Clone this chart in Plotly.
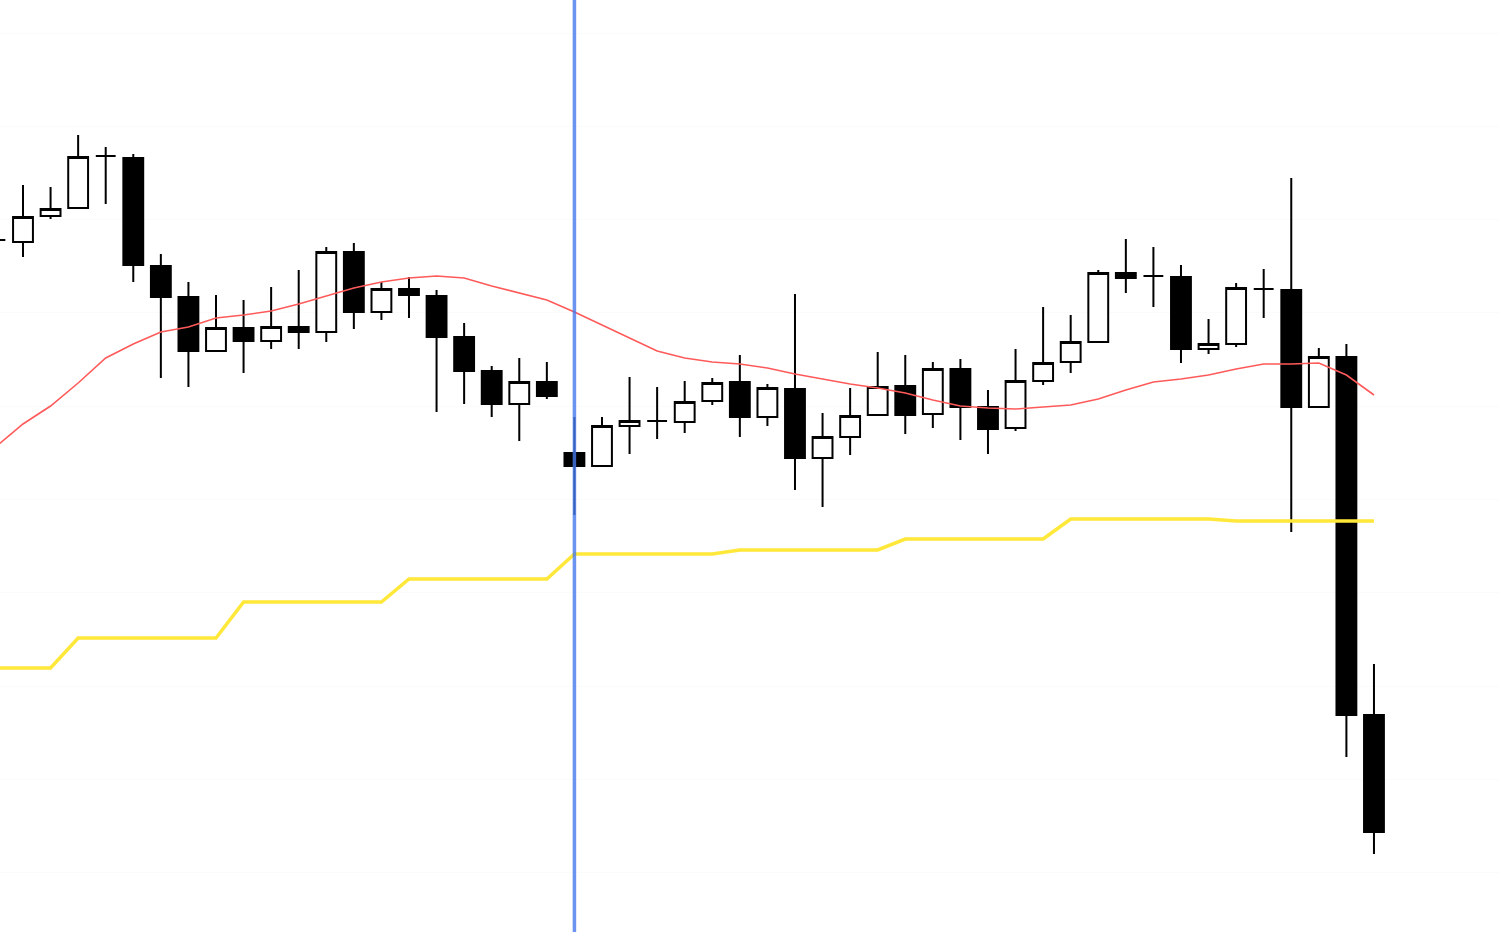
import plotly.graph_objects as go

# bar index (time slot) for each candle
bars = list(range(51))

open_ = [152.60, 152.58, 152.84, 152.92, 153.44, 153.42, 152.34, 152.03, 151.49, 151.72,
         151.59, 151.73, 151.68, 152.48, 151.88, 152.11, 152.04, 151.63, 151.29, 150.96,
         151.18, 150.47, 150.34, 150.74, 150.79, 150.78, 150.99, 151.18, 150.83, 151.11,
         150.42, 150.63, 150.85, 151.14, 150.86, 151.31, 150.93, 150.72, 151.19, 151.38,
         151.58, 152.27, 152.24, 152.23, 151.51, 151.56, 152.11, 152.10, 150.93, 151.43,
         147.85]
high_ = [152.68, 153.15, 153.13, 153.65, 153.53, 153.46, 152.46, 152.18, 152.05, 152.00,
         152.13, 152.30, 152.53, 152.57, 152.18, 152.23, 152.10, 151.77, 151.34, 151.42,
         151.38, 150.83, 150.83, 151.23, 151.13, 151.19, 151.22, 151.45, 151.16, 152.06,
         150.87, 151.12, 151.48, 151.45, 151.38, 151.41, 151.10, 151.51, 151.93, 151.85,
         152.30, 152.61, 152.53, 152.35, 151.81, 152.17, 152.31, 153.22, 151.52, 151.56,
         148.36]
low_ = [152.52, 152.43, 152.81, 152.91, 152.96, 152.18, 151.22, 151.13, 151.49, 151.27,
        151.51, 151.51, 151.58, 151.71, 151.80, 151.82, 150.88, 150.96, 150.83, 150.59,
        151.01, 149.85, 150.34, 150.46, 150.61, 150.67, 150.95, 150.63, 150.74, 150.10,
        149.93, 150.45, 150.85, 150.66, 150.72, 150.60, 150.46, 150.69, 151.15, 151.27,
        151.57, 152.07, 151.93, 151.37, 151.46, 151.53, 151.82, 149.68, 150.92, 147.43,
        146.46]
close_ = [152.60, 152.83, 152.91, 153.43, 153.44, 152.35, 152.03, 151.49, 151.72, 151.59,
          151.73, 151.68, 152.48, 151.88, 152.11, 152.05, 151.63, 151.29, 150.96, 151.18,
          151.04, 150.34, 150.74, 150.79, 150.79, 150.98, 151.17, 150.83, 151.12, 150.42,
          150.63, 150.84, 151.13, 150.85, 151.31, 150.93, 150.71, 151.19, 151.37, 151.58,
          152.27, 152.22, 152.24, 151.51, 151.56, 152.12, 152.11, 150.93, 151.43, 147.85,
          146.68]

# moving average (red)
ma_red = [150.53, 150.76, 150.94, 151.17, 151.42, 151.56, 151.68, 151.73, 151.82, 151.85,
          151.89, 151.96, 152.04, 152.12, 152.18, 152.22, 152.24, 152.22, 152.14, 152.07,
          152.00, 151.88, 151.75, 151.62, 151.49, 151.42, 151.38, 151.36, 151.32, 151.26,
          151.21, 151.16, 151.12, 151.07, 151.00, 150.94, 150.92, 150.91, 150.93, 150.95,
          151.01, 151.10, 151.18, 151.21, 151.25, 151.31, 151.36, 151.36, 151.37, 151.25,
          151.05]

# higher-timeframe line (yellow)
line_yellow = [148.32, 148.32, 148.32, 148.62, 148.62, 148.62, 148.62, 148.62, 148.62, 148.98,
               148.98, 148.98, 148.98, 148.98, 148.98, 149.21, 149.21, 149.21, 149.21, 149.21,
               149.21, 149.46, 149.46, 149.46, 149.46, 149.46, 149.46, 149.50, 149.50, 149.50,
               149.50, 149.50, 149.50, 149.61, 149.61, 149.61, 149.61, 149.61, 149.61, 149.81,
               149.81, 149.81, 149.81, 149.81, 149.81, 149.79, 149.79, 149.79, 149.79, 149.79,
               149.79]

marker_bar = 21  # vertical blue marker

fig = go.Figure()
fig.add_trace(go.Scatter(x=bars, y=line_yellow, mode="lines",
                         line=dict(color="#FFE83A", width=3.5), hoverinfo="skip"))
fig.add_trace(go.Scatter(x=bars, y=ma_red, mode="lines",
                         line=dict(color="#FF5A5A", width=1.6), hoverinfo="skip"))
fig.add_trace(go.Candlestick(
    x=bars, open=open_, high=high_, low=low_, close=close_,
    increasing=dict(line=dict(color="black", width=2), fillcolor="white"),
    decreasing=dict(line=dict(color="black", width=2), fillcolor="black"),
    whiskerwidth=0,
))

fig.add_shape(type="line", xref="x", yref="paper", x0=marker_bar, x1=marker_bar, y0=0, y1=1,
              line=dict(color="rgba(70,120,235,0.8)", width=3.5), layer="above")

fig.update_layout(
    width=1500, height=932,
    margin=dict(l=0, r=0, t=0, b=0),
    paper_bgcolor="white", plot_bgcolor="white",
    showlegend=False,
    boxgap=0.28, boxgroupgap=0,
    xaxis=dict(range=[0.1658, 54.571], showticklabels=False, showgrid=False,
               zeroline=False, showline=False, ticks="", rangeslider=dict(visible=False)),
    yaxis=dict(range=[145.68, 155.00], showticklabels=False, showgrid=True,
               gridcolor="#fbfbfb", gridwidth=1, tick0=154.67, dtick=0.933,
               zeroline=False, showline=False, ticks=""),
)

fig.write_html("out.html",
               config={"displayModeBar": False},
               post_script="document.body.style.margin='0';document.body.style.overflow='hidden';")
